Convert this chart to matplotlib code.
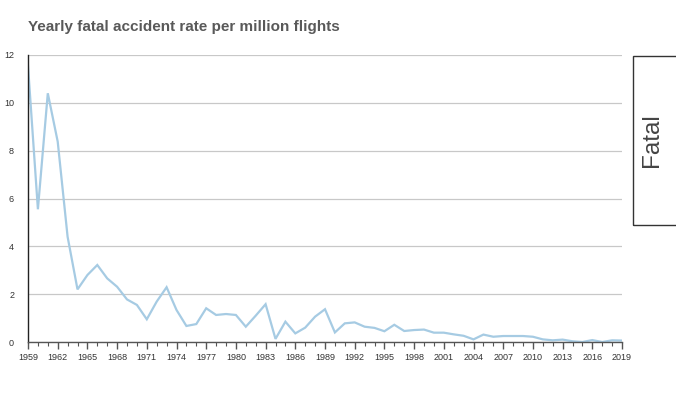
import numpy as np
import matplotlib
matplotlib.use("Agg")
import matplotlib.pyplot as plt
from matplotlib.ticker import MultipleLocator
from matplotlib.patches import Rectangle

plt.rcParams['font.family'] = ['Liberation Sans', 'DejaVu Sans']

# yearly fatal accident rate per million flights
years = list(range(1959, 2020))
rates = [
    11.55, 5.55, 10.4, 8.38, 4.4, 2.2, 2.8, 3.22, 2.66, 2.31,
    1.78, 1.55, 0.95, 1.69, 2.29, 1.34, 0.67, 0.75, 1.41, 1.13,
    1.17, 1.13, 0.64, 1.1, 1.58, 0.13, 0.85, 0.36, 0.6, 1.06,
    1.37, 0.4, 0.78, 0.82, 0.64, 0.59, 0.45, 0.72, 0.46, 0.5,
    0.52, 0.39, 0.39, 0.32, 0.26, 0.11, 0.31, 0.22, 0.25, 0.25,
    0.25, 0.22, 0.11, 0.07, 0.1, 0.03, 0.0, 0.08, 0.0, 0.07,
    0.06,
]
series_label = "Fatal"
title = "Yearly fatal accident rate per million flights"

W, H = 676, 393
fig = plt.figure(figsize=(W / 100, H / 100), dpi=100)
ax = fig.add_axes([28 / W, 1 - 342 / H, (622 - 28) / W, (342 - 55) / H])

ax.plot(years, rates, color='#a6cbe3', lw=1.6, solid_joinstyle='miter')

ax.set_xlim(1959, 2019)
ax.set_ylim(0, 12)
ax.yaxis.set_major_locator(MultipleLocator(2))
ax.xaxis.set_major_locator(MultipleLocator(3))
ax.xaxis.set_minor_locator(MultipleLocator(1))
ax.grid(axis='y', color='#c8c8c8', lw=0.9)
ax.set_axisbelow(True)

for s in ['top', 'right']:
    ax.spines[s].set_visible(False)
ax.spines['left'].set_color('#222222')
ax.spines['bottom'].set_color('#555555')
ax.spines['left'].set_linewidth(1.0)
ax.spines['bottom'].set_linewidth(1.0)

ax.tick_params(axis='y', length=0, pad=10, labelsize=6.5, labelcolor='#333333')
ax.tick_params(axis='x', which='major', length=5, width=1, color='#555555',
               pad=3, labelsize=6.5, labelcolor='#333333')
ax.tick_params(axis='x', which='minor', length=3, width=0.8, color='#555555')

fig.text(28 / W, 1 - 27 / H, title, fontsize=11, fontweight='bold',
         color='#595959', ha='left', va='center')

# legend box on the right
fig.patches.append(Rectangle((633 / W, 1 - 225 / H), 60 / W, 169 / H,
                             transform=fig.transFigure, fill=False,
                             edgecolor='#333333', lw=1))
fig.text(652 / W, 1 - 140 / H, series_label, rotation=90, fontsize=17.5,
         color='#444444', ha='center', va='center')

fig.savefig("out.png", dpi=100)
